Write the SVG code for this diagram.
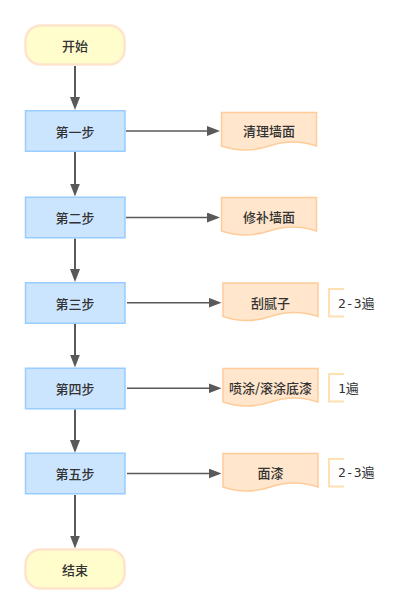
<svg xmlns="http://www.w3.org/2000/svg" width="405" height="612" viewBox="0 0 405 612">
<defs>
<style>
.term{fill:#fffdcc;stroke:#ffe4cc;stroke-width:2.5}
.step{fill:#cce5ff;stroke:#99ccff;stroke-width:1.5}
.doc{fill:#ffe6cc;stroke:#ffcc99;stroke-width:1.5}
.ann{fill:none;stroke:#ffe0b2;stroke-width:2}
.lbl{font-family:"Noto Sans CJK SC","Noto Sans",sans-serif;font-size:13px;font-weight:500;fill:#333;text-anchor:middle;dominant-baseline:central}
.note{font-family:"DejaVu Sans Mono","Noto Sans CJK SC",monospace;font-size:13px;fill:#333;dominant-baseline:central}
.vline{stroke:#595959;stroke-width:2;fill:none}
.hline{stroke:#595959;stroke-width:1.5;fill:none}
</style>
<marker id="ah" viewBox="0 0 13 10" refX="1" refY="5" markerWidth="13" markerHeight="10" markerUnits="userSpaceOnUse" orient="auto">
<path d="M0,0 L13,5 L0,10 Z" fill="#595959"/>
</marker>
</defs>
<g id="connectors">
<path class="vline" d="M75,66 V98" marker-end="url(#ah)"/>
<path class="vline" d="M75,152 V184.5" marker-end="url(#ah)"/>
<path class="vline" d="M75,238.5 V270" marker-end="url(#ah)"/>
<path class="vline" d="M75,324 V355.5" marker-end="url(#ah)"/>
<path class="vline" d="M75,409.5 V441" marker-end="url(#ah)"/>
<path class="vline" d="M75,495 V536.5" marker-end="url(#ah)"/>
<path class="hline" d="M126,131 H208" marker-end="url(#ah)"/>
<path class="hline" d="M126,217.5 H208" marker-end="url(#ah)"/>
<path class="hline" d="M127,302.7 H209.5" marker-end="url(#ah)"/>
<path class="hline" d="M127,388.3 H209.5" marker-end="url(#ah)"/>
<path class="hline" d="M127,473.5 H209.5" marker-end="url(#ah)"/>
</g>
<g id="start">
<rect class="term" x="25.5" y="25.5" width="99" height="39" rx="15"/>
<text class="lbl" x="75" y="45">开始</text>
</g>
<g id="step1">
<rect class="step" x="25.5" y="110.75" width="99.5" height="40.5"/>
<text class="lbl" x="75" y="131">第一步</text>
</g>
<g id="step2">
<rect class="step" x="25.5" y="197.25" width="99.5" height="40.5"/>
<text class="lbl" x="75" y="217.5">第二步</text>
</g>
<g id="step3">
<rect class="step" x="25.5" y="282.75" width="99.5" height="40.5"/>
<text class="lbl" x="75" y="303">第三步</text>
</g>
<g id="step4">
<rect class="step" x="25.5" y="368.25" width="99.5" height="40.5"/>
<text class="lbl" x="75" y="388.5">第四步</text>
</g>
<g id="step5">
<rect class="step" x="25.5" y="453.25" width="99.5" height="40.5"/>
<text class="lbl" x="75" y="473.5">第五步</text>
</g>
<g id="end">
<rect class="term" x="25.5" y="549.5" width="99" height="39" rx="15"/>
<text class="lbl" x="75" y="569">结束</text>
</g>
<g id="doc1">
<path class="doc" d="M221.5,112.5 H316.5 V146 Q293,138 269,146 Q245,154 221.5,146 Z"/>
<text class="lbl" x="269" y="130.5">清理墙面</text>
</g>
<g id="doc2">
<path class="doc" d="M221.5,197.5 H316.5 V231 Q293,223 269,231 Q245,239 221.5,231 Z"/>
<text class="lbl" x="269" y="216.5">修补墙面</text>
</g>
<g id="doc3">
<path class="doc" d="M223,283 H318 V316.5 Q294.5,308.5 270.5,316.5 Q246.5,324.5 223,316.5 Z"/>
<text class="lbl" x="270.5" y="302">刮腻子</text>
</g>
<g id="doc4">
<path class="doc" d="M223,368.5 H318 V402 Q294.5,394 270.5,402 Q246.5,410 223,402 Z"/>
<text class="lbl" x="270.5" y="387.5">喷涂/滚涂底漆</text>
</g>
<g id="doc5">
<path class="doc" d="M223,453.5 H318 V487 Q294.5,479 270.5,487 Q246.5,495 223,487 Z"/>
<text class="lbl" x="270.5" y="472">面漆</text>
</g>
<g id="note3">
<path class="ann" d="M344,289 H329 V316.5 H344"/>
<text class="note" x="338" y="303">2-3遍</text>
</g>
<g id="note4">
<path class="ann" d="M344,374 H329 V401.5 H344"/>
<text class="note" x="338" y="388">1遍</text>
</g>
<g id="note5">
<path class="ann" d="M344,459 H329 V486.5 H344"/>
<text class="note" x="338" y="472">2-3遍</text>
</g>
</svg>
